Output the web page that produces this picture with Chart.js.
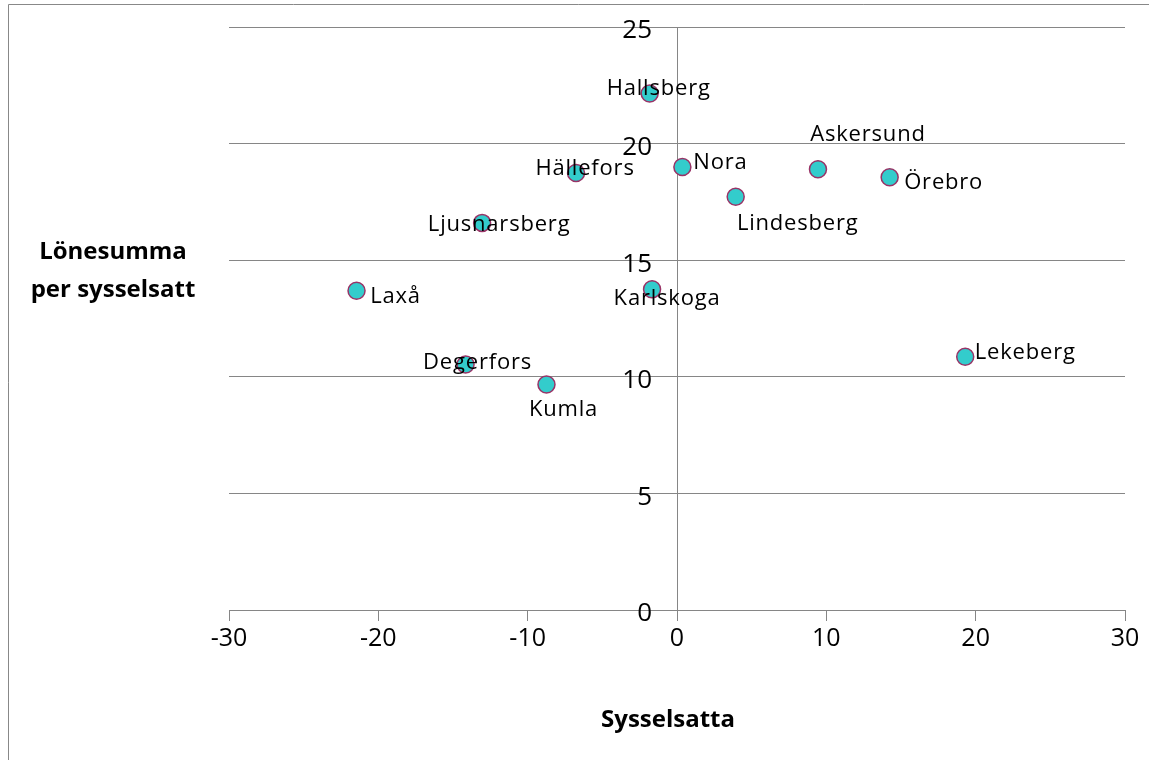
<!DOCTYPE html>
<html>
<head>
<meta charset="utf-8">
<script src="https://cdn.jsdelivr.net/npm/chart.js@4/dist/chart.umd.min.js"></script>
<style>
  html, body { margin: 0; padding: 0; background: #fff; }
  #wrap { position: relative; width: 1149px; height: 760px; }
</style>
</head>
<body>
<div id="wrap"><canvas id="c"></canvas></div>
<script>
// ---- data ----
const municipalities = ['Hallsberg', 'Hällefors', 'Nora', 'Askersund', 'Örebro', 'Lindesberg',
  'Ljusnarsberg', 'Laxå', 'Karlskoga', 'Lekeberg', 'Degerfors', 'Kumla'];
const sysselsatta = [-1.83, -6.76, 0.36, 9.44, 14.24, 3.93, -13.05, -21.46, -1.67, 19.3, -14.16, -8.74];
const lonesumma = [22.15, 18.74, 19.0, 18.9, 18.56, 17.72, 16.6, 13.69, 13.75, 10.86, 10.53, 9.67];
const xTicks = [-30, -20, -10, 0, 10, 20, 30];
const yTicks = [0, 5, 10, 15, 20, 25];
const xTitle = 'Sysselsatta';
const yTitle = ['Lönesumma', 'per sysselsatt'];

// label offsets (pixels, text centre x / baseline y relative to point)
const labelOffsets = [
  [9, 2], [9, 2], [38, 2], [50, -28], [54, 12], [62, 33],
  [17, 8], [39, 12], [15, 16], [60, 2], [12, 5], [17, 32]
];

const points = sysselsatta.map((x, i) => ({ x: x, y: lonesumma[i] }));

const GRID = '#868686';

const labelPlugin = {
  id: 'pointLabels',
  afterDatasetsDraw(chart) {
    const ctx = chart.ctx;
    const meta = chart.getDatasetMeta(0);
    ctx.save();
    ctx.font = '22px "Open Sans"';
    ctx.letterSpacing = '0.8px';
    ctx.fillStyle = '#000';
    ctx.textAlign = 'center';
    ctx.textBaseline = 'alphabetic';
    meta.data.forEach((el, i) => {
      const o = labelOffsets[i];
      ctx.fillText(municipalities[i], el.x + o[0], el.y + o[1]);
    });
    ctx.restore();
  }
};

const titlePlugin = {
  id: 'axisTitles',
  afterDraw(chart) {
    const ctx = chart.ctx;
    const xs = chart.scales.x;
    const ys = chart.scales.y;
    ctx.save();
    // y tick labels, beside the y axis (which crosses at x = 0)
    ctx.font = '26px "Open Sans"';
    ctx.fillStyle = '#000';
    ctx.textAlign = 'right';
    ctx.textBaseline = 'middle';
    const axisX = xs.getPixelForValue(0);
    yTicks.forEach(v => {
      ctx.fillText(String(v), axisX - 25, ys.getPixelForValue(v) + 4);
    });
    // axis titles
    ctx.font = 'bold 24px "Open Sans"';
    ctx.textAlign = 'center';
    ctx.textBaseline = 'alphabetic';
    ctx.fillText(xTitle, axisX - 9, 727);
    ctx.fillText(yTitle[0], 113, 259);
    ctx.fillText(yTitle[1], 113, 297);
    // outer chart frame
    ctx.strokeStyle = '#888';
    ctx.lineWidth = 1;
    ctx.beginPath();
    ctx.moveTo(8.5, 760);
    ctx.lineTo(8.5, 4.5);
    ctx.lineTo(1149, 4.5);
    ctx.stroke();
    ctx.restore();
  }
};

new Chart(document.getElementById('c'), {
  type: 'scatter',
  data: {
    datasets: [{
      data: points,
      backgroundColor: '#33CCCC',
      borderColor: '#993366',
      borderWidth: 1.5,
      pointRadius: 8.5,
      pointHoverRadius: 8.5
    }]
  },
  options: {
    responsive: true,
    maintainAspectRatio: false,
    animation: false,
    events: [],
    layout: { padding: { left: 229, right: 24, top: 27, bottom: 150 } },
    plugins: { legend: { display: false }, tooltip: { enabled: false } },
    scales: {
      x: {
        type: 'linear',
        min: -30, max: 30,
        position: { y: 0 },
        afterBuildTicks: (s) => { s.ticks = xTicks.map(v => ({ value: v })); },
        grid: { drawOnChartArea: false, drawTicks: true, tickLength: 10, color: GRID },
        border: { display: true, color: GRID, width: 1 },
        ticks: { color: '#000', font: { family: 'Open Sans', size: 25 }, padding: 4, maxRotation: 0 }
      },
      y: {
        type: 'linear',
        min: 0, max: 25,
        position: { x: 0 },
        afterBuildTicks: (s) => { s.ticks = yTicks.map(v => ({ value: v })); },
        grid: { drawOnChartArea: true, drawTicks: true, tickLength: 10, color: GRID },
        border: { display: true, color: GRID, width: 1 },
        ticks: { display: false }
      }
    }
  },
  plugins: [labelPlugin, titlePlugin]
});
</script>
</body>
</html>
